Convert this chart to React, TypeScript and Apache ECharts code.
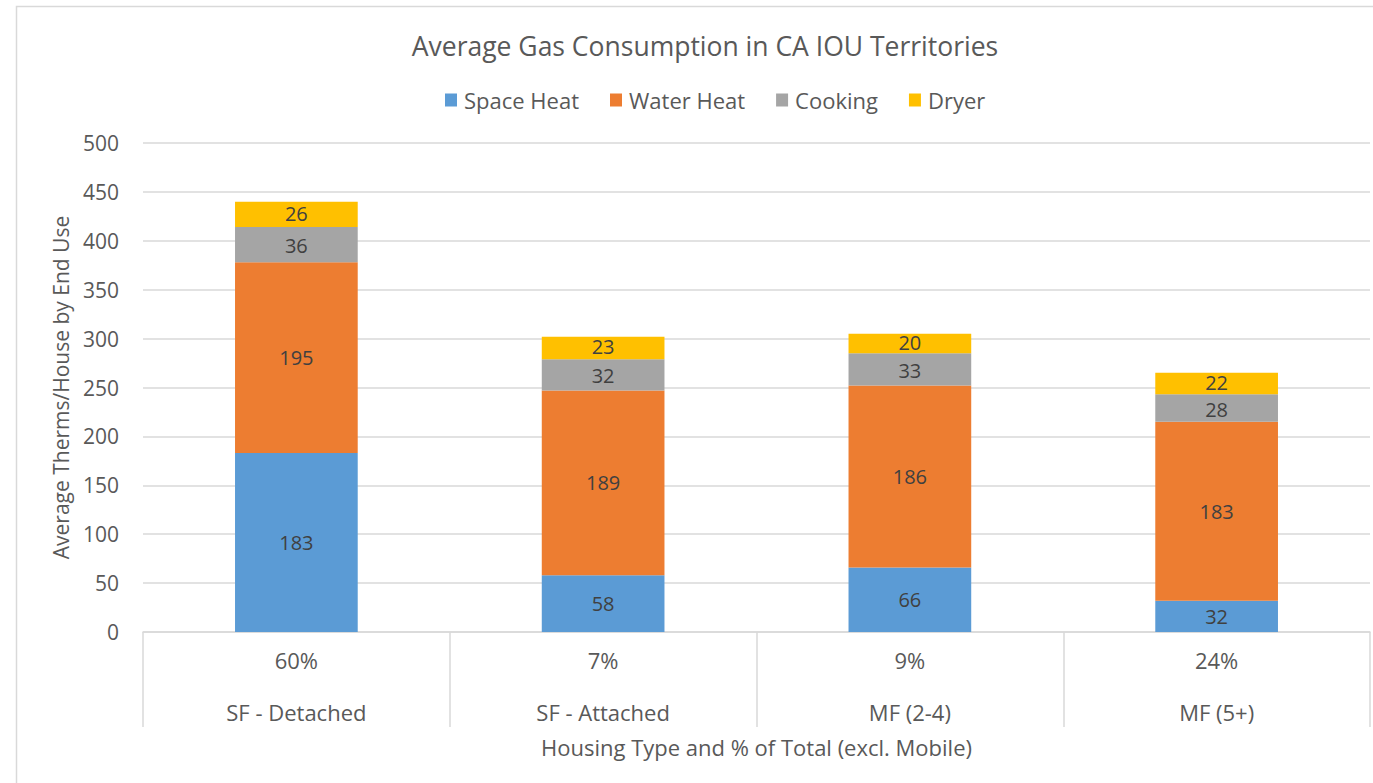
import React, { useEffect, useRef } from "react";
import * as echarts from "echarts";

const percents = ["60%", "7%", "9%", "24%"];
const housingTypes = ["SF - Detached", "SF - Attached", "MF (2-4)", "MF (5+)"];
const spaceHeat = [183, 58, 66, 32];
const waterHeat = [195, 189, 186, 183];
const cooking = [36, 32, 33, 28];
const dryer = [26, 23, 20, 22];
const yTicks = { min: 0, max: 500, interval: 50 };

const FONT = "'Open Sans', 'Noto Sans', sans-serif";
const FS = 21;
const FL = 22;

export default function App() {
  const ref = useRef<HTMLDivElement>(null);
  useEffect(() => {
    if (!ref.current) return;
    const chart = echarts.init(ref.current, undefined, { renderer: "svg" });
    const mkSeries = (name: string, data: number[], color: string, dy: number) => ({
      name,
      type: "bar",
      stack: "total",
      data,
      barWidth: "40%",
      itemStyle: { color },
      label: {
        show: true,
        position: "inside",
        offset: [0, dy],
        color: "#404040",
        fontSize: 20,
        lineHeight: 18,
        fontFamily: FONT,
      },
    });
    chart.setOption({
      animation: false,
      textStyle: { fontFamily: FONT },
      title: {
        text: "Average Gas Consumption in CA IOU Territories",
        left: 700,
        textAlign: "center",
        top: 27,
        textStyle: { color: "#595959", fontSize: 26.5, fontWeight: "normal", fontFamily: FONT },
      },
      legend: {
        top: 84,
        left: 440,
        itemWidth: 12,
        itemHeight: 13,
        itemGap: 31,
        icon: "rect",
        textStyle: { color: "#595959", fontSize: FL, fontFamily: FONT, padding: [0, 0, 0, 2] },
        data: ["Space Heat", "Water Heat", "Cooking", "Dryer"],
      },
      grid: { left: 143, right: 3, top: 143, bottom: 151, containLabel: false },
      xAxis: {
        type: "category",
        data: percents.map((p, i) => p + "|" + housingTypes[i]),
        axisLine: { lineStyle: { color: "#d9d9d9", width: 1.5 } },
        axisTick: { show: true, length: 95, lineStyle: { color: "#d9d9d9", width: 1.5 } },
        axisLabel: {
          margin: 2,
          interval: 0,
          formatter: (v: string) => {
            const [a, b] = v.split("|");
            return "{a|" + a + "}\n{b|" + b + "}";
          },
          rich: {
            a: { lineHeight: 52, fontSize: FL, color: "#595959", fontFamily: FONT },
            b: { lineHeight: 52, fontSize: FL, color: "#595959", fontFamily: FONT },
          },
        },
        name: "Housing Type and % of Total (excl. Mobile)",
        nameLocation: "middle",
        nameGap: 104,
        nameTextStyle: { color: "#595959", fontSize: FL, fontFamily: FONT },
      },
      yAxis: {
        type: "value",
        min: yTicks.min,
        max: yTicks.max,
        interval: yTicks.interval,
        axisLine: { show: false },
        axisTick: { show: false },
        splitLine: { lineStyle: { color: "#d9d9d9", width: 1.5 } },
        axisLabel: { color: "#595959", fontSize: FS, margin: 24, fontFamily: FONT },
        name: "Average Therms/House by End Use",
        nameLocation: "middle",
        nameGap: 72,
        nameTextStyle: { color: "#595959", fontSize: FS, fontFamily: FONT },
      },
      graphic: [
        {
          type: "rect",
          shape: { x: 16.5, y: 6.5, width: 1500, height: 900 },
          style: { fill: "none", stroke: "#d9d9d9", lineWidth: 1.5 },
          silent: true,
        },
      ],
      series: [
        mkSeries("Space Heat", spaceHeat, "#5B9BD5", 0),
        mkSeries("Water Heat", waterHeat, "#ED7D31", 0),
        mkSeries("Cooking", cooking, "#A5A5A5", 1),
        mkSeries("Dryer", dryer, "#FFC000", -1),
      ],
    });
    return () => chart.dispose();
  }, []);
  return (
    <div
      ref={ref}
      style={{ position: "absolute", left: 0, top: 0, width: 1373, height: 783, background: "#fff" }}
    />
  );
}
